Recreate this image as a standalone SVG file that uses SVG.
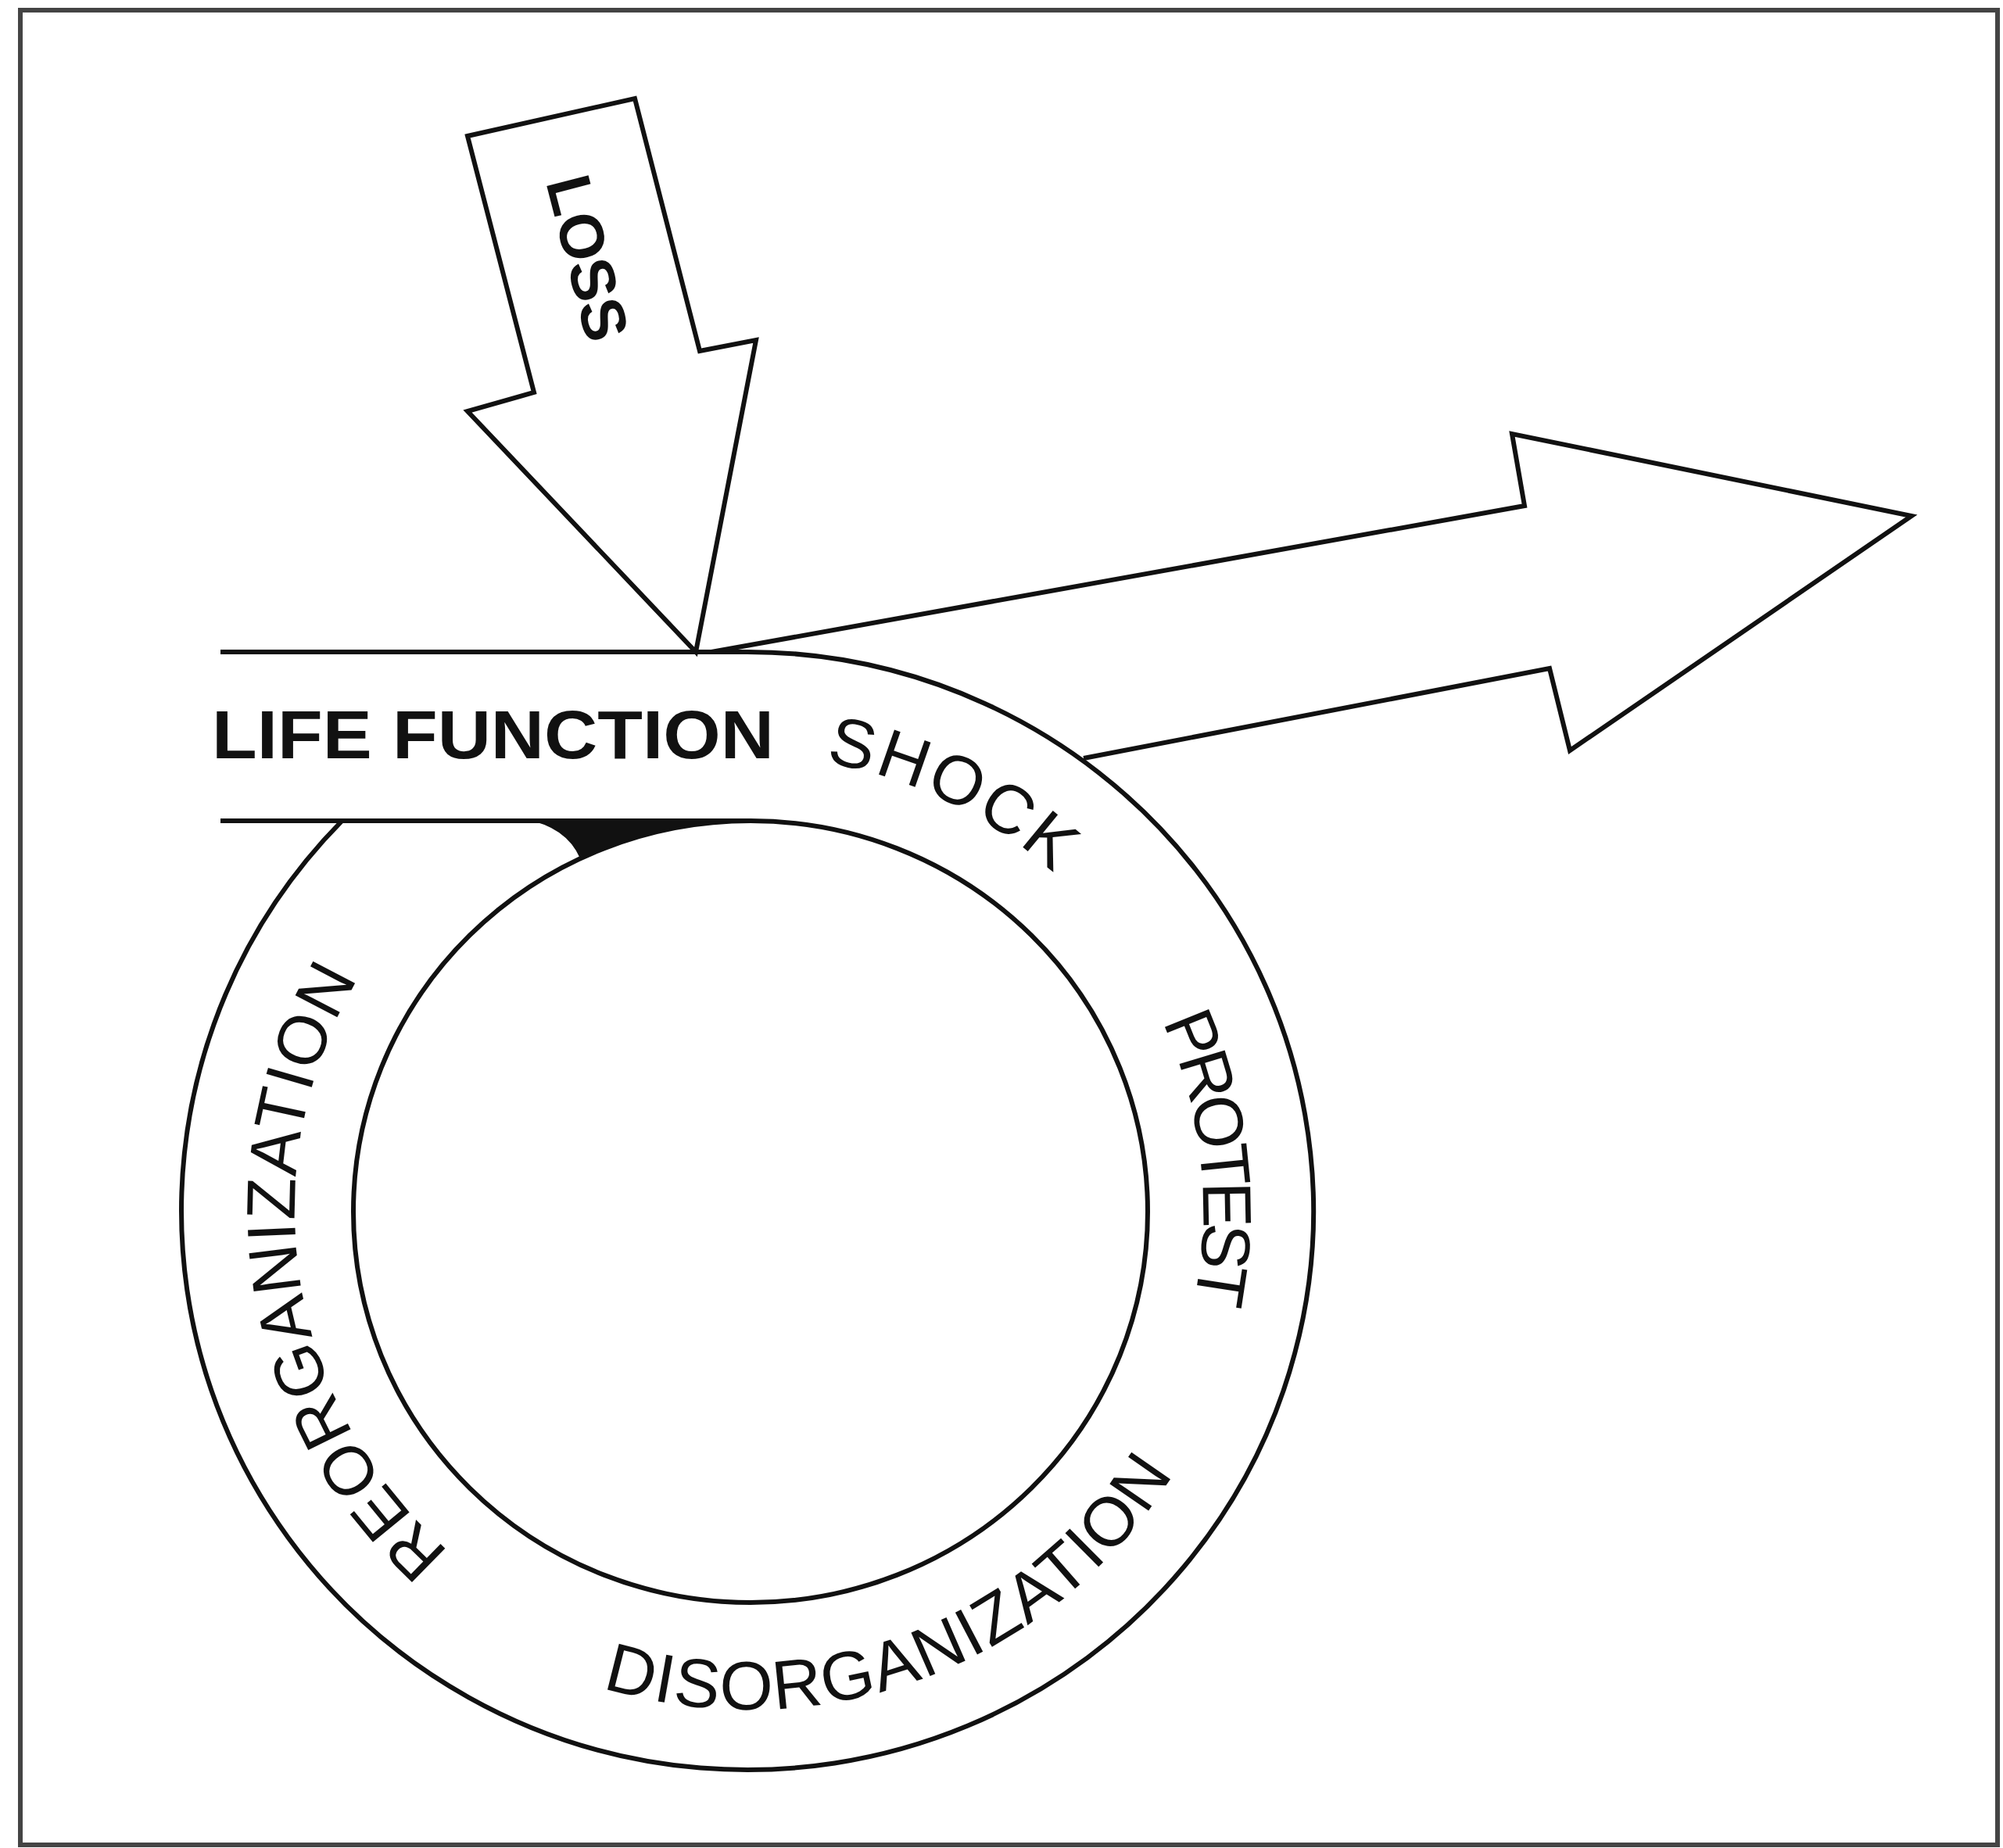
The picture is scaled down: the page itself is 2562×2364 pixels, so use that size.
<svg xmlns="http://www.w3.org/2000/svg" width="2562" height="2364" viewBox="0 0 2562 2364">
<style>
.ln{fill:none;stroke:#111;stroke-width:6;stroke-linejoin:miter;stroke-linecap:butt}
.ring{font-family:"Liberation Sans",Arial,sans-serif;font-size:88px;fill:#111}
.bold{font-family:"Liberation Sans",Arial,sans-serif;font-weight:bold;fill:#111}
</style>
<defs>
<path id="pShock" d="M 634.0 1065.8 A 581 581 0 0 1 1537.7 1508.5"/>
<path id="pProtest" d="M 1187.3 1014.2 A 581 581 0 0 1 1305.6 2013.6"/>
<path id="pDisorg" d="M 552.4 2041.8 A 639 639 0 0 0 1588.4 1652.4"/>
<path id="pReorg" d="M 749.8 2090.4 A 581 581 0 0 1 592.4 1096.5"/>
</defs>
<rect x="0" y="0" width="2562" height="2364" fill="#ffffff"/>
<rect id="frame" x="26" y="13" width="2529" height="2347" fill="none" stroke="#444" stroke-width="6"/>

<g id="cycle">
<path class="ln" d="M 282 834 L 956 834 A 724 715 0 1 1 437.5 1050"/>
<path class="ln" d="M 282 1050 L 960 1050"/>
<ellipse class="ln" cx="960" cy="1550" rx="508" ry="500"/>
<path d="M 670 1048 L 908 1050 Q 810 1066 742 1098 Q 724 1057 670 1048 Z" fill="#111"/>
</g>

<g id="connectors">
<path id="outArrow" class="ln" d="M 910 834 L 1950 647 L 1934 555 L 2445 660 L 2008 960 L 1982 855 L 1386 970"/>
</g>

<g id="loss">
<path class="ln" style="fill:#fff" d="M 598 174 L 812 126 L 895 449 L 967 435 L 890 834 L 598 526 L 683 502 Z"/>
<text class="bold" font-size="80" text-anchor="middle" x="0" y="28" textLength="215" lengthAdjust="spacingAndGlyphs" transform="translate(752 330) rotate(75.5)">LOSS</text>
</g>

<g id="life-function">
<text class="bold" font-size="88" x="271" y="970" textLength="719" lengthAdjust="spacingAndGlyphs">LIFE FUNCTION</text>
</g>

<g id="shock">
<text class="ring" letter-spacing="4"><textPath href="#pShock" startOffset="50%" text-anchor="middle">SHOCK</textPath></text>
</g>
<g id="protest">
<text class="ring" letter-spacing="-8"><textPath href="#pProtest" startOffset="50%" text-anchor="middle">PROTEST</textPath></text>
</g>
<g id="disorganization">
<text class="ring" letter-spacing="2"><textPath href="#pDisorg" startOffset="50%" text-anchor="middle">DISORGANIZATION</textPath></text>
</g>
<g id="reorganization">
<text class="ring" letter-spacing="1.5"><textPath href="#pReorg" startOffset="50%" text-anchor="middle">REORGANIZATION</textPath></text>
</g>
</svg>
